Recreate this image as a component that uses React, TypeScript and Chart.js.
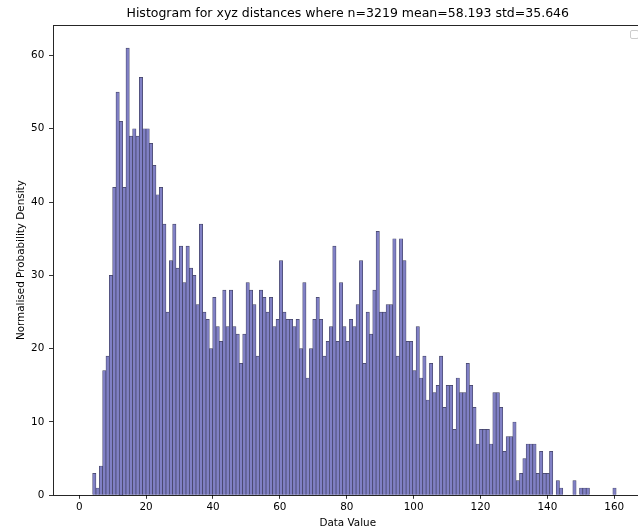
import React, { useEffect, useRef } from "react";
import { Chart, registerables } from "chart.js";
Chart.register(...registerables);

const titleText = "Histogram for xyz distances where n=3219 mean=58.193 std=35.646";
const xLabel = "Data Value";
const yLabel = "Normalised Probability Density";

// histogram bins: first edge and width (data units)
const binStart = 4.0;
const binWidth = 0.9973;
// counts per bin
const counts = [
  3, 1, 4, 17, 19, 30, 42, 55, 51, 42,
  61, 49, 50, 49, 57, 50, 50, 48, 45, 41,
  42, 37, 25, 32, 37, 31, 34, 29, 34, 31,
  30, 26, 37, 25, 24, 20, 27, 23, 21, 28,
  23, 28, 23, 22, 18, 22, 29, 28, 26, 19,
  28, 27, 25, 27, 23, 24, 32, 25, 24, 24,
  23, 24, 20, 29, 16, 20, 24, 27, 24, 19,
  21, 23, 34, 21, 29, 23, 21, 24, 23, 26,
  32, 18, 25, 22, 28, 36, 25, 25, 26, 26,
  35, 19, 35, 32, 21, 21, 17, 23, 16, 19,
  13, 18, 14, 15, 19, 12, 15, 15, 9, 16,
  14, 14, 18, 15, 12, 7, 9, 9, 9, 7,
  14, 14, 12, 6, 8, 8, 10, 2, 3, 5,
  7, 7, 7, 3, 6, 3, 3, 6, 0, 2,
  1, 0, 0, 0, 2, 0, 1, 1, 1, 0,
  0, 0, 0, 0, 0, 0, 1,
];
const xTicks = [0, 20, 40, 60, 80, 100, 120, 140, 160];
const yTicks = [0, 10, 20, 30, 40, 50, 60];

const FONT = "'DejaVu Sans', sans-serif";

const framePlugin = {
  id: "frame",
  afterDatasetsDraw(chart: any) {
    const { ctx, chartArea } = chart;
    const l = Math.round(chartArea.left) + 0.5;
    const t = Math.round(chartArea.top) + 0.5;
    const r = Math.round(chartArea.right) + 0.5;
    const b = Math.round(chartArea.bottom) + 0.5;
    ctx.save();
    ctx.strokeStyle = "rgba(0,0,0,0.85)";
    ctx.lineWidth = 1;
    ctx.strokeRect(l, t, r - l, b - t);
    // empty legend frame (top right)
    const lx = Math.round(chartArea.right - 13.3) + 0.5;
    const ly = Math.round(chartArea.top + 5.3) + 0.5;
    ctx.strokeStyle = "#cccccc";
    ctx.fillStyle = "rgba(255,255,255,0.8)";
    ctx.beginPath();
    if ((ctx as any).roundRect) (ctx as any).roundRect(lx, ly, 8, 8, 1.5);
    else ctx.rect(lx, ly, 8, 8);
    ctx.fill();
    ctx.stroke();
    ctx.restore();
  },
};

export default function App() {
  const ref = useRef<HTMLCanvasElement | null>(null);
  useEffect(() => {
    if (!ref.current) return;
    const data = counts.map((c, i) => ({ x: binStart + (i + 0.5) * binWidth, y: c }));
    const tickFont = { family: FONT, size: 10.4 };
    const chart = new Chart(ref.current, {
      type: "bar",
      data: {
        datasets: [
          {
            data: data as any,
            backgroundColor: "rgb(128,128,197)",
            borderColor: "rgb(64,64,98)",
            borderWidth: 0.7,
            barPercentage: 1,
            categoryPercentage: 1,
          },
        ],
      },
      options: {
        animation: false,
        responsive: false,
        maintainAspectRatio: false,
        layout: { padding: { left: 0, right: 7, top: 0, bottom: 0 } },
        plugins: {
          legend: { display: false },
          tooltip: { enabled: false },
          title: {
            display: true,
            text: titleText,
            fullSize: false,
            color: "#000",
            font: { family: FONT, size: 12.5, weight: "normal" },
            padding: { top: 6.5, bottom: 3.5 },
          },
        },
        scales: {
          x: {
            type: "linear",
            min: -8,
            max: 168.6,
            offset: false,
            afterBuildTicks: (s: any) => {
              s.ticks = xTicks.map((v) => ({ value: v }));
            },
            afterFit: (s: any) => {
              s.height = 34.7;
            },
            grid: {
              display: true,
              drawOnChartArea: false,
              drawTicks: true,
              tickLength: 3.5,
              tickWidth: 0.8,
              color: "#000",
              offset: false,
            },
            border: { display: false },
            ticks: { color: "#000", font: tickFont, padding: 2, maxRotation: 0, autoSkip: false },
            title: {
              display: true,
              text: xLabel,
              color: "#000",
              font: tickFont,
              padding: { top: 0, bottom: 0.8 },
            },
          },
          y: {
            type: "linear",
            min: 0,
            max: 64.15,
            afterBuildTicks: (s: any) => {
              s.ticks = yTicks.map((v) => ({ value: v }));
            },
            afterFit: (s: any) => {
              s.width = 52.5;
            },
            grid: {
              display: true,
              drawOnChartArea: false,
              drawTicks: true,
              tickLength: 3.5,
              tickWidth: 0.8,
              color: "#000",
            },
            border: { display: false },
            ticks: { color: "#000", font: tickFont, padding: 4.7, autoSkip: false },
            title: {
              display: true,
              text: yLabel,
              color: "#000",
              font: tickFont,
              padding: { top: 15.2, bottom: 0 },
            },
          },
        },
      } as any,
      plugins: [framePlugin],
    });
    return () => chart.destroy();
  }, []);
  return (
    <div
      style={{
        position: "fixed",
        left: 0,
        top: 0,
        width: 638,
        height: 530,
        overflow: "hidden",
        background: "#fff",
      }}
    >
      <canvas ref={ref} width={650} height={530} style={{ display: "block" }} />
    </div>
  );
}
